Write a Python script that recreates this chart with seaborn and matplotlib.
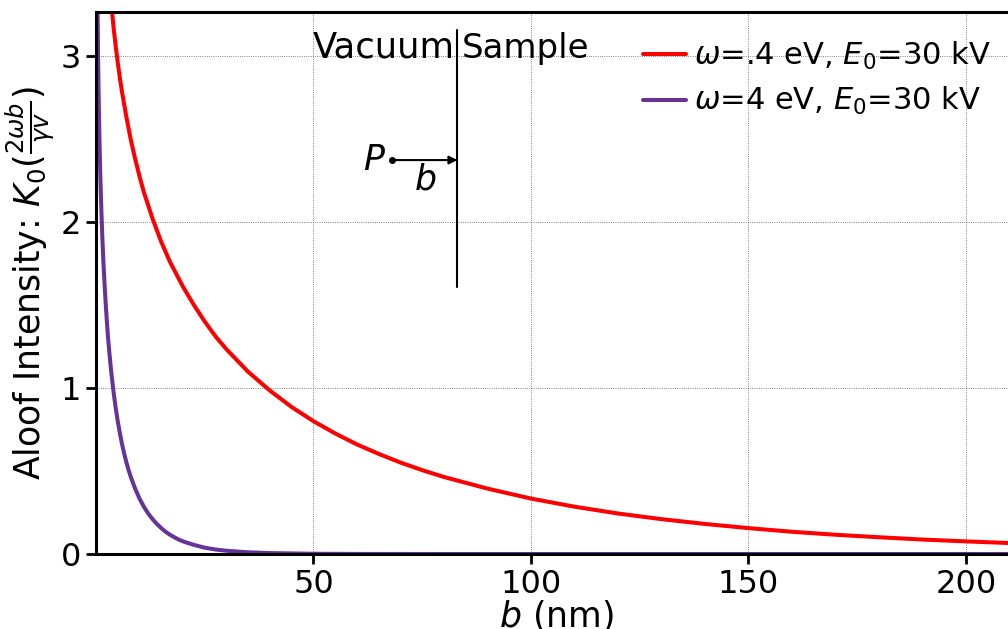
import numpy as np
import pandas as pd
import matplotlib
matplotlib.use("Agg")
import matplotlib.pyplot as plt
import seaborn as sns

# Data (b in nm, aloof intensity)
b_red = [3.5, 3.75, 4, 4.5, 5, 5.5, 6, 7, 8, 9, 10, 11, 12, 13, 14, 15, 16, 17, 18, 20,
         22.5, 25, 27.5, 30, 35, 40, 45, 50, 55, 60, 65, 70, 75, 80, 90, 100, 110, 120,
         130, 140, 150, 160, 170, 180, 190, 200, 212]
k_red = [3.31, 3.25, 3.18, 3.065, 2.96, 2.865, 2.78, 2.63, 2.495, 2.38, 2.275, 2.18, 2.10,
         2.02, 1.95, 1.88, 1.82, 1.76, 1.71, 1.61, 1.50, 1.40, 1.31, 1.233, 1.097, 0.984,
         0.885, 0.80, 0.726, 0.66, 0.603, 0.551, 0.505, 0.464, 0.394, 0.334, 0.285, 0.244,
         0.210, 0.181, 0.156, 0.134, 0.116, 0.101, 0.087, 0.076, 0.064]

b_purple = [0.3, 0.35, 0.375, 0.4, 0.45, 0.5, 0.55, 0.6, 0.7, 0.8, 0.9, 1.0, 1.1, 1.2, 1.3,
            1.4, 1.5, 1.6, 1.7, 1.8, 2.0, 2.25, 2.5, 2.75, 3, 3.5, 4, 4.5, 5, 5.5, 6, 6.5,
            7, 7.5, 8, 9, 10, 11, 12, 13, 14, 15, 16, 17, 18, 19, 20, 22.5, 25, 27.5, 30,
            35, 40, 50, 60, 80, 100, 150, 212]
k_purple = [3.47, 3.31, 3.25, 3.18, 3.065, 2.96, 2.865, 2.78, 2.63, 2.495, 2.38, 2.275,
            2.18, 2.10, 2.02, 1.95, 1.88, 1.82, 1.76, 1.71, 1.61, 1.50, 1.40, 1.31, 1.233,
            1.097, 0.984, 0.885, 0.80, 0.726, 0.66, 0.603, 0.551, 0.505, 0.464, 0.394,
            0.334, 0.285, 0.244, 0.210, 0.181, 0.156, 0.134, 0.116, 0.101, 0.087, 0.076,
            0.055, 0.038, 0.027, 0.0196, 0.0103, 0.0055, 0.0015, 0.0004, 0.00003, 0.0,
            0.0, 0.0]

labels = [r"$\omega$=.4 eV, $E_0$=30 kV", r"$\omega$=4 eV, $E_0$=30 kV"]
colors = ["#ff0000", "#663399"]
x_ticks = [50, 100, 150, 200]
y_ticks = [0, 1, 2, 3]

sns.set_theme(style="ticks")
plt.rcParams["font.family"] = ["DejaVu Sans"]
plt.rcParams["mathtext.fontset"] = "dejavusans"
plt.rcParams["text.color"] = "black"
plt.rcParams["axes.labelcolor"] = "black"
plt.rcParams["xtick.color"] = "black"
plt.rcParams["ytick.color"] = "black"

fig = plt.figure(figsize=(10.08, 6.29), dpi=100)
ax = fig.add_axes([96 / 1008, 75 / 629, 922 / 1008, 542 / 629])

df_red = pd.DataFrame({"b": b_red, "K": k_red})
df_pur = pd.DataFrame({"b": b_purple, "K": k_purple})
sns.lineplot(data=df_red, x="b", y="K", ax=ax, color=colors[0], lw=2.9, label=labels[0])
sns.lineplot(data=df_pur, x="b", y="K", ax=ax, color=colors[1], lw=2.9, label=labels[1])

ax.set_xlim(0, 212)
ax.set_ylim(0, 3.265)
ax.set_xticks(x_ticks)
ax.set_yticks(y_ticks)
ax.tick_params(axis="both", labelsize=23, width=2, length=7, direction="out",
               colors="black", labelcolor="black")
ax.grid(True, color="0.35", ls=":", lw=0.6)
for s in ["left", "bottom", "top", "right"]:
    ax.spines[s].set_linewidth(2.2)
    ax.spines[s].set_color("black")

ax.set_xlabel(r"$b$ (nm)", fontsize=25, labelpad=-1, color="black")
ax.set_ylabel(r"Aloof Intensity: $K_0(\frac{2\omega b}{\gamma v})$", fontsize=25,
              labelpad=3, color="black")

# Annotation: interface sketch
ax.plot([83.1, 83.1], [1.608, 3.157], color="black", lw=1.5)
ax.text(82.4, 2.99, "Vacuum", fontsize=25.5, ha="right", va="baseline", color="black")
ax.text(84.0, 2.99, "Sample", fontsize=24.5, ha="left", va="baseline", color="black")
ax.plot([68.1], [2.373], "o", color="black", ms=4)
ax.annotate("", xy=(83.1, 2.373), xytext=(68.1, 2.373),
            arrowprops=dict(arrowstyle="-|>", color="black", lw=1.5,
                            mutation_scale=12, shrinkA=0, shrinkB=0))
ax.text(66.7, 2.373, r"$P$", fontsize=25, ha="right", va="center", color="black")
ax.text(75.7, 2.253, r"$b$", fontsize=25, ha="center", va="center", color="black")

ax.legend(loc="upper right", frameon=False, fontsize=22, handlelength=1.4,
          handletextpad=0.25, labelspacing=0.45, labelcolor="black")

fig.savefig("out.png", dpi=100)
